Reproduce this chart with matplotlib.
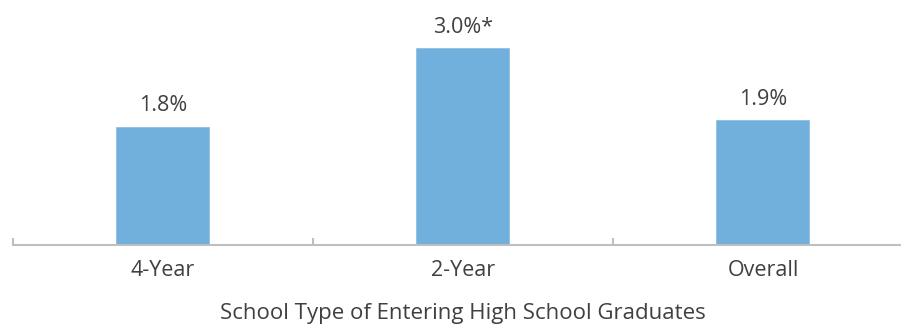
import matplotlib
matplotlib.use("Agg")
import matplotlib.pyplot as plt
import numpy as np

categories = ["4-Year", "2-Year", "Overall"]
values = [1.8, 3.0, 1.9]
bar_labels = ["1.8%", "3.0%*", "1.9%"]
x_title = "School Type of Entering High School Graduates"

plt.rcParams['font.family'] = ['Open Sans', 'DejaVu Sans']

W, H = 901, 326
fig = plt.figure(figsize=(W / 100, H / 100), dpi=100)
px_per_unit = 65.7
ytop = 3.6
ax = fig.add_axes([13 / W, (H - 245) / H, 900 / W, ytop * px_per_unit / H])

x = np.arange(len(categories))
ax.bar(x, values, width=0.31, color='#71afdd', edgecolor='#8fc0e6', linewidth=0.6, zorder=2)
for xi, v, lab in zip(x, values, bar_labels):
    ax.annotate(lab, (xi, v), xytext=(0, 11), textcoords='offset points',
                ha='center', va='baseline', fontsize=15.5, color='#404040')

ax.set_xlim(-0.5, len(categories) - 0.5)
ax.set_ylim(0, ytop)
for s in ['top', 'right', 'left']:
    ax.spines[s].set_visible(False)
ax.spines['bottom'].set_color('#bfbfbf')
ax.spines['bottom'].set_linewidth(1.5)
ax.set_yticks([])
ax.set_xticks(x)
ax.set_xticklabels(categories, fontsize=15.5, color='#404040')
ax.tick_params(axis='x', which='major', length=0, pad=11)
ax.set_xticks(np.arange(len(categories) + 1) - 0.5, minor=True)
ax.tick_params(axis='x', which='minor', direction='in', length=5, width=1.5, color='#bfbfbf')
ax.set_xlabel(x_title, fontsize=16, color='#404040', labelpad=16)

fig.savefig("out.png", dpi=100)
